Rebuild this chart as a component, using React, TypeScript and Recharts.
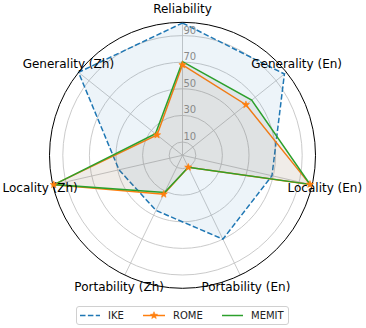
import React from 'react';
import { RadarChart, Radar, PolarGrid, PolarAngleAxis, PolarRadiusAxis, Legend } from 'recharts';

const categories = [
  'Reliability',
  'Generality (En)',
  'Locality (En)',
  'Portability (En)',
  'Portability (Zh)',
  'Locality (Zh)',
  'Generality (Zh)',
];
const ikeValues = [99.5, 98, 69, 70, 46, 49, 100];
const romeValues = [68, 61, 98.3, 10, 32.5, 99.3, 24.5];
const memitValues = [70.5, 66.5, 98.3, 10, 31, 99, 26];
const radiusTicks = [10, 30, 50, 70, 90];
const seriesNames = ['IKE', 'ROME', 'MEMIT'];

const data = categories.map((c, i) => ({
  category: c,
  [seriesNames[0]]: ikeValues[i],
  [seriesNames[1]]: romeValues[i],
  [seriesNames[2]]: memitValues[i],
}));

const FONT = '"DejaVu Sans", Verdana, sans-serif';
const BLUE = '#1f77b4';
const ORANGE = '#ff7f0e';
const GREEN = '#2ca02c';

function starPoints(cx: number, cy: number, R: number, r: number) {
  const pts: string[] = [];
  for (let k = 0; k < 10; k++) {
    const rad = k % 2 === 0 ? R : r;
    const a = -Math.PI / 2 + (k * Math.PI) / 5;
    pts.push(`${cx + rad * Math.cos(a)},${cy + rad * Math.sin(a)}`);
  }
  return pts.join(' ');
}

const StarDot = (props: any) => {
  const { cx, cy } = props;
  if (cx == null || cy == null) return null;
  return <polygon points={starPoints(cx, cy, 3.8, 1.6)} fill={ORANGE} stroke={ORANGE} strokeWidth={0.6} />;
};

const AngleTick = (props: any) => {
  const { x, y, payload } = props;
  return (
    <text x={x} y={y} textAnchor="middle" dominantBaseline="central" fontFamily={FONT} fontSize={12} fill="#000">
      {payload.value}
    </text>
  );
};

const RadiusTick = (props: any) => {
  const { x, y, payload } = props;
  return (
    <text x={x + 1} y={y - 2} textAnchor="start" fontFamily={FONT} fontSize={10} fill="#8a8a8a">
      {payload.value}
    </text>
  );
};

const LegendContent = () => (
  <svg width={213} height={19} style={{ display: 'block' }}>
    <rect x={0.5} y={0.5} width={212} height={18} rx={2.5} ry={2.5} fill="#fff" stroke="#d0d0d0" strokeWidth={1} />
    <line x1={4} y1={9.5} x2={24} y2={9.5} stroke={BLUE} strokeWidth={1.5} strokeDasharray="5.5 2.4" />
    <text x={32} y={13} fontFamily={FONT} fontSize={10} fill="#222">{seriesNames[0]}</text>
    <line x1={67} y1={9.5} x2={89} y2={9.5} stroke={ORANGE} strokeWidth={1.5} />
    <polygon points={starPoints(78, 9.5, 3.8, 1.6)} fill={ORANGE} stroke={ORANGE} strokeWidth={0.6} />
    <text x={97} y={13} fontFamily={FONT} fontSize={10} fill="#222">{seriesNames[1]}</text>
    <line x1={146} y1={9.5} x2={167} y2={9.5} stroke={GREEN} strokeWidth={1.5} />
    <text x={175} y={13} fontFamily={FONT} fontSize={10} fill="#222">{seriesNames[2]}</text>
  </svg>
);

export default function App() {
  return (
    <div style={{ position: 'absolute', left: 0, top: 0, width: 366, height: 328, background: '#fff' }}>
      <RadarChart
        width={366}
        height={328}
        data={data}
        cx={182.5}
        cy={155.3}
        outerRadius={133}
        margin={{ top: 0, right: 0, bottom: 0, left: 0 }}
      >
        <PolarGrid gridType="circle" stroke="#c4c4c4" strokeWidth={0.9} />
        <PolarAngleAxis
          dataKey="category"
          tick={<AngleTick />}
          tickLine={false}
          tickSize={13}
          axisLineType="circle"
          axisLine={{ stroke: '#000', strokeWidth: 1 }}
        />
        <PolarRadiusAxis
          angle={90}
          domain={[0, 100]}
          ticks={radiusTicks}
          type="number"
          axisLine={false}
          tickLine={false}
          tick={<RadiusTick />}
        />
        <Radar
          name={seriesNames[0]}
          dataKey={seriesNames[0]}
          stroke={BLUE}
          strokeWidth={1.5}
          strokeDasharray="5.5 2.4"
          fill={BLUE}
          fillOpacity={0.08}
          dot={false}
          isAnimationActive={false}
        />
        <Radar
          name={seriesNames[1]}
          dataKey={seriesNames[1]}
          stroke={ORANGE}
          strokeWidth={1.5}
          fill={ORANGE}
          fillOpacity={0.03}
          dot={<StarDot />}
          isAnimationActive={false}
        />
        <Radar
          name={seriesNames[2]}
          dataKey={seriesNames[2]}
          stroke={GREEN}
          strokeWidth={1.5}
          fill="#555555"
          fillOpacity={0.09}
          dot={false}
          isAnimationActive={false}
        />
        <Legend
          verticalAlign="middle"
          align="center"
          content={<LegendContent />}
          wrapperStyle={{ top: 306, left: 76, width: 213, height: 19 }}
        />
      </RadarChart>
    </div>
  );
}
